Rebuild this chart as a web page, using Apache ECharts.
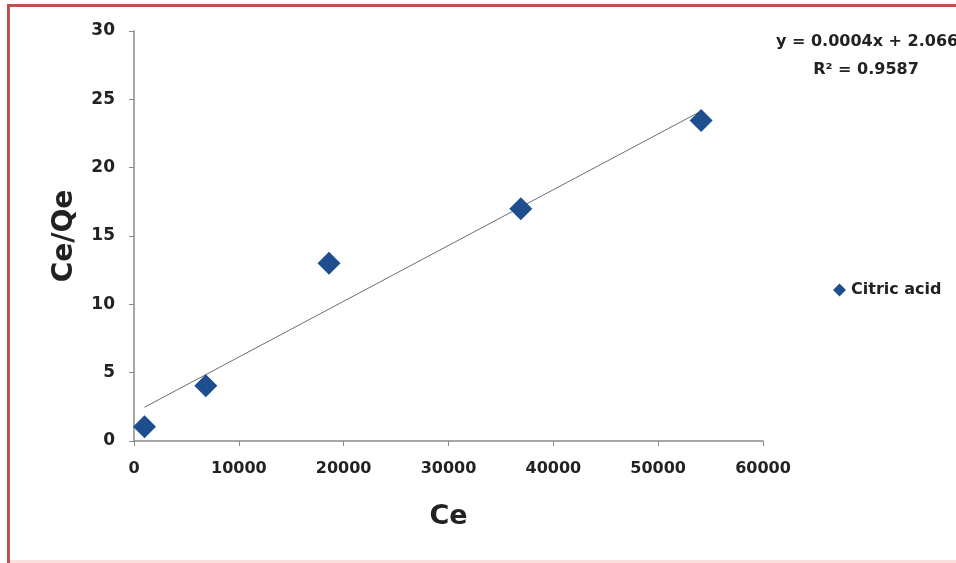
<!DOCTYPE html>
<html>
<head>
<meta charset="utf-8">
<script src="https://cdn.jsdelivr.net/npm/echarts@6/dist/echarts.min.js"></script>
<style>
html,body{margin:0;padding:0;background:#fff;}
#chart{width:956px;height:563px;}
</style>
</head>
<body>
<div id="chart"></div>
<script>
// Data
const ceValues = [1000, 6850, 18600, 36900, 54100];
const ceQeValues = [1.05, 4.05, 13.0, 17.0, 23.45];
const trendX = [1000, 54000];
const trendY = [2.47, 24.1];
const seriesName = 'Citric acid';
const equationLines = ['y = 0.0004x + 2.066', 'R\u00B2 = 0.9587'];
const xTicks = { min: 0, max: 60000, interval: 10000 };
const yTicks = { min: 0, max: 30, interval: 5 };

const FONT = 'DejaVu Sans';
const chart = echarts.init(document.getElementById('chart'));

const points = ceValues.map((x, i) => [x, ceQeValues[i]]);
const trend = trendX.map((x, i) => [x, trendY[i]]);

chart.setOption({
  backgroundColor: '#ffffff',
  animation: false,
  grid: { left: 134, top: 31, right: 193, bottom: 122, containLabel: false },
  legend: {
    data: [{ name: seriesName, icon: 'diamond' }],
    left: 828, top: 277,
    itemWidth: 13, itemHeight: 13, itemGap: 5,
    textStyle: { fontFamily: FONT, fontWeight: 'bold', fontSize: 16, color: '#222' }
  },
  xAxis: {
    type: 'value', min: xTicks.min, max: xTicks.max, interval: xTicks.interval,
    name: 'Ce', nameLocation: 'middle', nameGap: 62,
    nameTextStyle: { fontFamily: FONT, fontWeight: 'bold', fontSize: 27, color: '#222' },
    axisLine: { show: true, onZero: false, lineStyle: { color: '#8a8a8a', width: 1.5 } },
    axisTick: { show: true, inside: false, length: 5, lineStyle: { color: '#8a8a8a' } },
    axisLabel: { fontFamily: FONT, fontWeight: 'bold', fontSize: 16, color: '#222', margin: 20,
      formatter: v => String(v) },
    splitLine: { show: false }
  },
  yAxis: {
    type: 'value', min: yTicks.min, max: yTicks.max, interval: yTicks.interval,
    name: 'Ce/Qe', nameLocation: 'middle', nameGap: 55, nameRotate: 90,
    nameTextStyle: { fontFamily: FONT, fontWeight: 'bold', fontSize: 28, color: '#222' },
    axisLine: { show: true, onZero: false, lineStyle: { color: '#8a8a8a', width: 1.5 } },
    axisTick: { show: true, inside: false, length: 5, lineStyle: { color: '#8a8a8a' } },
    axisLabel: { fontFamily: FONT, fontWeight: 'bold', fontSize: 17, color: '#222', margin: 19,
      formatter: v => String(v) },
    splitLine: { show: false }
  },
  series: [
    {
      name: 'trend', type: 'line', data: trend, symbol: 'none', silent: true,
      lineStyle: { color: '#6e6e6e', width: 1 }, z: 2
    },
    {
      name: seriesName, type: 'scatter', data: points,
      symbol: 'diamond', symbolSize: 23,
      itemStyle: { color: '#1f4e8f', opacity: 1 }, z: 3
    }
  ],
  graphic: [
    { type: 'rect', shape: { x: 7, y: 4, width: 949, height: 3 }, style: { fill: '#c0504d' } },
    { type: 'rect', shape: { x: 7, y: 4, width: 3, height: 559 }, style: { fill: '#c0504d' } },
    { type: 'rect', shape: { x: 10, y: 560, width: 946, height: 3 }, style: { fill: '#fbe0e0' } },
    { type: 'text', x: 776, y: 42, style: { text: equationLines[0], textAlign: 'left', textVerticalAlign: 'middle', font: 'bold 16px "DejaVu Sans"', fill: '#222' } },
    { type: 'text', x: 866, y: 70, style: { text: equationLines[1], textAlign: 'center', textVerticalAlign: 'middle', font: 'bold 16px "DejaVu Sans"', fill: '#222' } }
  ]
});
</script>
</body>
</html>
